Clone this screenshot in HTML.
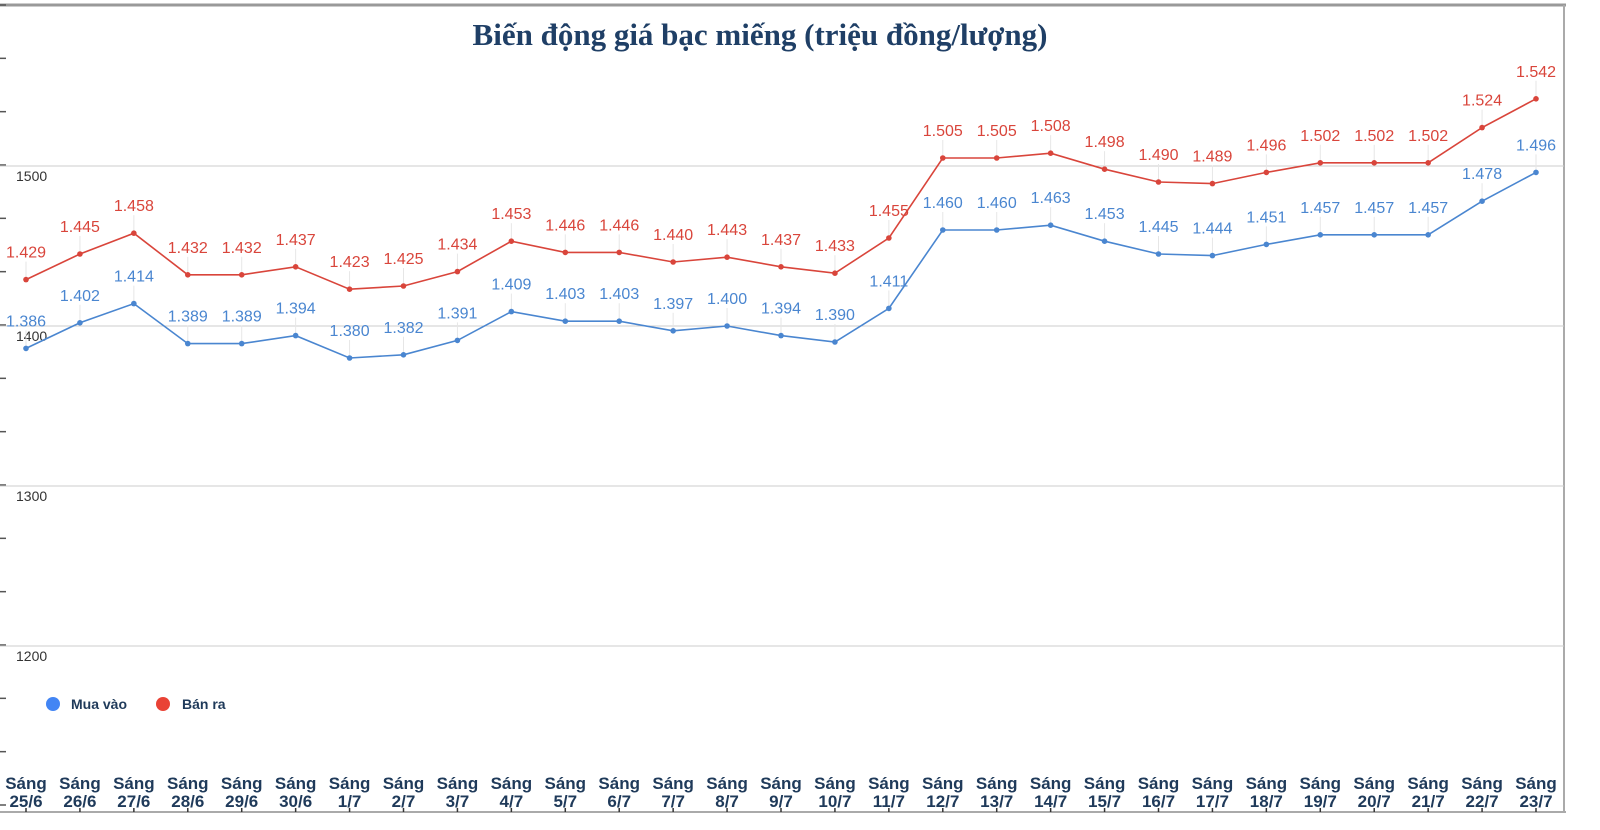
<!DOCTYPE html>
<html><head><meta charset="utf-8"><style>
body{margin:0;background:#fff;width:1600px;height:830px;overflow:hidden}
svg{display:block}
</style></head><body>
<svg width="1600" height="830">
<text x="760" y="45" text-anchor="middle" font-family="Liberation Serif, serif" font-weight="bold" font-size="31" fill="#1f3f66">Biến động giá bạc miếng (triệu đồng/lượng)</text>
<g id="frame"></g>
<g id="grid"></g>
<g id="series"></g>
<g>
<circle cx="53" cy="704" r="7" fill="#4285f4"/>
<text x="71" y="709" font-family="Liberation Sans, sans-serif" font-weight="bold" font-size="14" fill="#1f3a5a">Mua vào</text>
<circle cx="163" cy="704" r="7" fill="#e94235"/>
<text x="182" y="709" font-family="Liberation Sans, sans-serif" font-weight="bold" font-size="14" fill="#1f3a5a">Bán ra</text>
</g>
<g id="xlabels"></g>
</svg>
<script>
const categories=["25/6","26/6","27/6","28/6","29/6","30/6","1/7","2/7","3/7","4/7","5/7","6/7","7/7","8/7","9/7","10/7","11/7","12/7","13/7","14/7","15/7","16/7","17/7","18/7","19/7","20/7","21/7","22/7","23/7"];
const buyValues=[1386,1402,1414,1389,1389,1394,1380,1382,1391,1409,1403,1403,1397,1400,1394,1390,1411,1460,1460,1463,1453,1445,1444,1451,1457,1457,1457,1478,1496];
const sellValues=[1429,1445,1458,1432,1432,1437,1423,1425,1434,1453,1446,1446,1440,1443,1437,1433,1455,1505,1505,1508,1498,1490,1489,1496,1502,1502,1502,1524,1542];
const yTicks=[1200,1300,1400,1500];
const NS="http://www.w3.org/2000/svg";
const x0=26,x1=1536,y1500=166,pxPer=1.6;
const xs=i=>x0+i*(x1-x0)/(categories.length-1);
const ys=v=>y1500+(1500-v)*pxPer;
function mk(tag,attrs,parent){const e=document.createElementNS(NS,tag);for(const k in attrs)e.setAttribute(k,attrs[k]);parent.appendChild(e);return e;}
const frame=document.getElementById('frame');
let b=mk('line',{x1:0,y1:5,x2:1566,y2:5,stroke:'#999','stroke-width':3},frame);


b=mk('line',{x1:1564,y1:5,x2:1564,y2:812,stroke:'#aaa','stroke-width':2},frame);


b=mk('line',{x1:0,y1:812,x2:1566,y2:812,stroke:'#aaa','stroke-width':2},frame);


for(let y=5;y<812;y+=160/3){const t=mk('line',{x1:0,y1:y,x2:6,y2:y,stroke:'#555','stroke-width':1.5},frame);

}
const grid=document.getElementById('grid');
yTicks.forEach(v=>{const y=ys(v);
const l=mk('line',{x1:0,y1:y,x2:1564,y2:y,stroke:'#ccc','stroke-width':1},grid);


const t=mk('text',{x:16,y:y+15,'font-family':'Liberation Sans, sans-serif','font-size':14,fill:'#333'},grid);t.textContent=v;

});
const sg=document.getElementById('series');
function drawSeries(vals,color,name){
 const pts=vals.map((v,i)=>xs(i)+','+ys(v)).join(' ');
 vals.forEach((v,i)=>{const d=mk('line',{x1:xs(i),y1:ys(v)-18,x2:xs(i),y2:ys(v),stroke:'#e6e6e6','stroke-width':1},sg);
 
 });
 const p=mk('polyline',{points:pts,fill:'none',stroke:color,'stroke-width':1.6},sg);
 
 
 vals.forEach((v,i)=>{const c=mk('circle',{cx:xs(i),cy:ys(v),r:2.8,fill:color},sg);
 
 
 const t=mk('text',{x:xs(i),y:ys(v)-22,'text-anchor':'middle','font-family':'Liberation Sans, sans-serif','font-size':16,fill:color},sg);
 t.textContent=(v/1000).toFixed(3);
 
 });
}
drawSeries(sellValues,'#d9453b','sell');
drawSeries(buyValues,'#4a86d0','buy');
const xl=document.getElementById('xlabels');
categories.forEach((c,i)=>{
 const t=mk('text',{x:xs(i),y:789,'text-anchor':'middle','font-family':'Liberation Sans, sans-serif','font-weight':'bold','font-size':17,fill:'#1f3a5a'},xl);
 
 
 const a=mk('tspan',{x:xs(i),dy:0},t);a.textContent='Sáng';
 const b2=mk('tspan',{x:xs(i),dy:18},t);b2.textContent=c;
 const tk=mk('line',{x1:xs(i),y1:808,x2:xs(i),y2:812,stroke:'#333','stroke-width':1.5},xl);
 
 
});
</script>
</body></html>
